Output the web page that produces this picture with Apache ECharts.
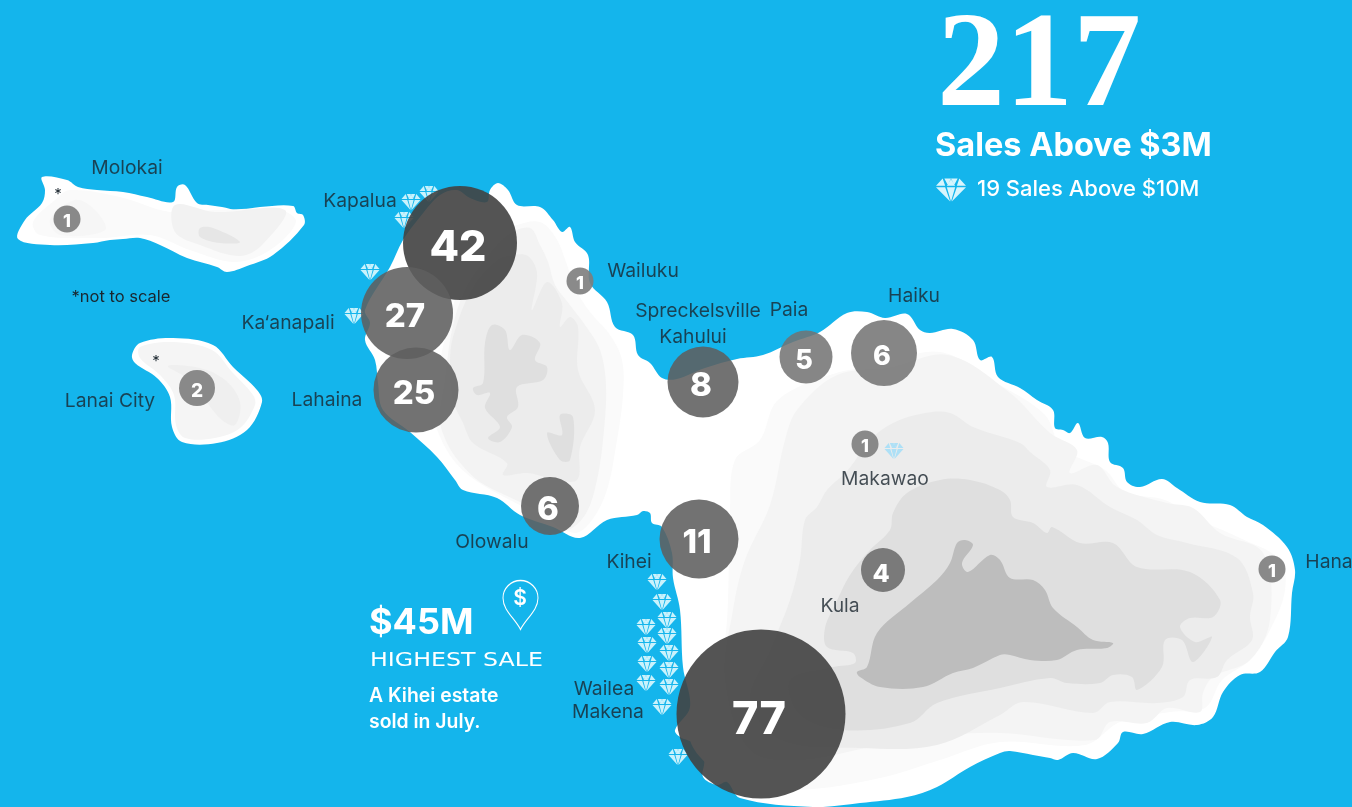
<!DOCTYPE html>
<html>
<head>
<meta charset="utf-8">
<title>Maui sales above $3M</title>
<style>
html, body { margin: 0; padding: 0; background: #14b5ec; }
#chart { width: 1352px; height: 807px; }
</style>
<script src="https://cdn.jsdelivr.net/npm/echarts@6/dist/echarts.min.js"></script>
</head>
<body>
<div id="chart"></div>
<script>
// sales per town, in map coordinates
const bubbleTowns = ['Wailea Makena', 'Kapalua', 'Kaanapali', 'Lahaina', 'Kihei', 'Kahului', 'Olowalu', 'Haiku', 'Paia', 'Kula', 'Lanai City', 'Molokai', 'Wailuku', 'Makawao', 'Hana'];
const bubbleCounts = [77, 42, 27, 25, 11, 8, 6, 6, 5, 4, 2, 1, 1, 1, 1];
const bubbleX = [761, 460, 407, 416, 699, 703, 550, 884, 806, 883, 197, 67, 580, 865, 1272];
const bubbleY = [714, 243, 313, 390, 539, 382, 506, 353, 357, 570, 388, 219, 281, 444, 569];

// sales above $10M, one diamond each
const diamondX = [429, 411, 404, 370, 354, 657, 662, 667, 646, 667, 647, 669, 647, 669, 646, 669, 662, 678, 894];
const diamondY = [194, 202, 220, 272, 316, 582, 602, 620, 627, 636, 645, 653, 664, 670, 683, 687, 707, 757, 451];

// place names
const placeNames = ['Molokai', 'Kapalua', 'Wailuku', 'Ka‘anapali', 'Lanai City', 'Lahaina', 'Spreckelsville', 'Paia', 'Haiku', 'Kahului', 'Makawao', 'Olowalu', 'Kihei', 'Kula', 'Hana', 'Wailea', 'Makena'];
const placeX = [127, 360, 643, 288, 110, 327, 698, 789, 914, 693, 885, 492, 629, 840, 1329, 604, 608];
const placeY = [167, 200, 270, 322, 400, 399, 310, 309, 295, 336, 478, 541, 561, 605, 561, 688, 711];

// island outlines
const maui = [[490,190],[498,183],[508,190],[517,205],[540,207],[553,220],[562,232],[570,227],[575,242],[588,255],[590,283],[607,302],[615,327],[633,335],[638,355],[650,363],[662,378],[677,379],[705,368],[737,359],[763,355],[793,342],[820,332],[847,313],[867,312],[885,318],[907,314],[920,330],[930,333],[953,329],[973,340],[980,360],[992,357],[998,377],[1020,388],[1037,400],[1053,410],[1055,428],[1063,430],[1070,433],[1078,423],[1085,438],[1102,437],[1108,443],[1110,462],[1123,468],[1127,482],[1140,487],[1162,479],[1177,488],[1200,502],[1230,505],[1247,517],[1263,525],[1287,547],[1295,570],[1292,593],[1288,637],[1275,652],[1260,672],[1240,675],[1223,692],[1213,717],[1197,725],[1170,722],[1143,734],[1123,732],[1118,743],[1097,759],[1073,753],[1058,760],[1050,758],[1033,755],[1010,751],[1000,753],[970,767],[937,787],[907,797],[860,803],[813,807],[740,798],[727,782],[717,785],[703,777],[704,760],[693,743],[680,737],[675,730],[690,707],[683,667],[680,610],[673,578],[672,553],[662,527],[652,523],[650,513],[643,511],[637,515],[607,520],[580,538],[553,527],[520,515],[497,498],[463,490],[455,480],[437,457],[410,432],[383,410],[378,383],[375,360],[365,340],[370,323],[365,310],[390,267],[403,240],[420,217],[440,195],[457,190],[470,198],[487,202]];
const westA = [[517,225],[540,222],[556,238],[566,262],[576,290],[590,312],[610,335],[622,360],[623,395],[617,440],[607,490],[592,520],[575,533],[550,520],[510,500],[478,482],[455,462],[438,432],[430,400],[440,360],[452,310],[470,260],[495,235]];
const westB = [[508,235],[530,228],[540,245],[548,262],[555,285],[566,300],[585,325],[600,350],[606,385],[604,430],[597,480],[585,515],[565,530],[540,512],[505,495],[480,482],[462,465],[448,445],[440,420],[445,380],[452,330],[465,290],[485,260]];
const westC = [[497,260],[513,255],[528,256],[537,273],[532,310],[547,282],[562,303],[560,327],[570,317],[578,327],[578,370],[595,410],[580,447],[577,480],[550,478],[527,473],[503,475],[507,463],[473,443],[463,423],[453,400],[450,365],[453,337],[473,287]];
const westD = [[492,325],[505,330],[510,350],[522,335],[540,343],[535,360],[547,367],[543,380],[517,387],[518,407],[507,417],[512,427],[500,442],[488,438],[500,427],[485,408],[490,393],[477,395],[473,388],[483,383],[485,343]];
const westE = [[560,415],[573,417],[570,460],[560,460],[547,433],[562,435]];
const eastA = [[728,600],[730,513],[735,460],[760,440],[778,400],[833,374],[880,365],[940,352],[1000,385],[1045,415],[1062,448],[1105,470],[1125,492],[1165,500],[1195,518],[1240,538],[1280,560],[1285,590],[1270,630],[1250,660],[1222,680],[1205,708],[1170,712],[1120,722],[1085,745],[1000,742],[940,760],[880,778],[800,790],[740,785],[690,740],[715,690],[725,640]];
const eastB = [[733,610],[745,560],[770,505],[785,440],[797,410],[837,375],[890,368],[948,355],[1010,393],[1050,433],[1077,450],[1070,473],[1097,465],[1117,487],[1167,503],[1193,508],[1220,533],[1263,553],[1270,620],[1250,660],[1213,677],[1203,693],[1200,712],[1167,708],[1147,723],[1110,722],[1095,740],[1000,733],[950,735],[880,745],[800,760],[750,750],[725,680]];
const eastC = [[790,600],[800,560],[805,520],[817,507],[827,490],[848,470],[870,440],[893,423],[925,413],[950,413],[973,427],[1020,443],[1030,452],[1050,470],[1047,487],[1077,485],[1110,507],[1137,520],[1157,535],[1187,543],[1237,558],[1253,593],[1250,617],[1252,640],[1227,660],[1217,677],[1190,680],[1183,697],[1157,703],[1110,702],[1093,713],[1023,702],[1000,715],[937,745],[860,748],[780,740],[750,700],[770,650]];
const eastD = [[907,493],[940,480],[970,480],[1000,490],[1010,500],[1013,517],[1033,523],[1047,533],[1052,527],[1080,543],[1113,543],[1137,567],[1190,572],[1220,600],[1213,617],[1190,618],[1180,627],[1195,642],[1212,637],[1193,662],[1182,640],[1165,640],[1162,667],[1137,690],[1132,677],[1113,675],[1100,683],[1067,683],[1050,678],[1000,688],[937,703],[910,723],[843,730],[800,715],[790,680],[833,667],[855,663],[853,653],[827,647],[825,628],[835,605],[850,575],[870,550],[890,530],[893,513]];
const eastE = [[957,543],[965,540],[973,545],[962,563],[968,572],[990,555],[1000,560],[1010,578],[1033,580],[1045,590],[1053,608],[1077,627],[1093,640],[1113,643],[1107,648],[1077,650],[1057,660],[1030,660],[1010,655],[1000,655],[973,668],[953,673],[923,687],[880,687],[860,677],[857,672],[867,667],[877,633],[910,603],[937,580],[950,563]];
const molokai = [[42,177],[67,180],[78,187],[97,190],[123,192],[147,197],[173,202],[177,187],[185,185],[197,203],[208,205],[222,207],[237,210],[260,207],[293,206],[297,213],[303,215],[304,225],[273,255],[247,266],[227,272],[217,267],[187,258],[160,245],[140,238],[123,239],[110,240],[93,243],[50,245],[18,239],[25,220],[42,203],[45,190]];
const molokaiA = [[70,190],[120,197],[170,212],[215,210],[280,210],[296,222],[270,250],[235,262],[190,250],[150,235],[100,238],[40,235],[33,222],[55,200]];
const molokaiB = [[175,205],[215,212],[285,210],[262,245],[240,256],[200,245],[175,232]];
const molokaiC = [[50,220],[75,200],[95,210],[105,230],[60,235]];
const molokaiD = [[200,228],[213,228],[240,242],[220,243],[200,237]];
const lanai = [[132,355],[140,343],[173,338],[213,345],[233,367],[257,390],[262,402],[247,430],[217,443],[182,442],[172,427],[170,397],[157,378],[135,363]];
const lanaiA = [[140,347],[173,342],[212,350],[232,372],[253,395],[255,405],[240,428],[215,438],[185,438],[176,425],[174,395],[160,375],[140,358]];
const lanaiB = [[168,366],[200,368],[225,380],[240,402],[235,425],[222,420],[205,400],[190,380]];

// styling, in the same order as the towns above
const bubbleSizes = [169, 114, 92, 85, 79, 71, 58, 66, 53, 44, 36, 27, 27, 27, 27];
const bubbleFills = ['rgba(65,65,65,.9)', 'rgba(65,65,65,.9)', 'rgba(94,94,94,.88)', 'rgba(94,94,94,.88)', 'rgba(94,94,94,.88)', 'rgba(94,94,94,.88)', 'rgba(94,94,94,.88)', 'rgba(114,114,114,.86)', 'rgba(114,114,114,.86)', 'rgba(105,105,105,.86)', 'rgba(125,125,125,.9)', 'rgba(125,125,125,.9)', 'rgba(125,125,125,.9)', 'rgba(125,125,125,.9)', 'rgba(125,125,125,.9)'];
const bubbleFonts = [45, 43, 33, 33, 33, 33, 33, 27, 27, 25, 19, 18, 18, 18, 18];

const layers = [
    [maui, '#ffffff'], [westA, '#fafafa'], [westB, '#f3f3f3'], [westC, '#ececec'], [westD, '#dfdfdf'], [westE, '#dfdfdf'],
    [eastA, '#fafafa'], [eastB, '#f4f4f4'], [eastC, '#ececec'], [eastD, '#dfdfdf'], [eastE, '#bdbdbd'],
    [molokai, '#ffffff'], [molokaiA, '#fafafa'], [molokaiB, '#f2f2f2'], [molokaiC, '#f6f6f6'], [molokaiD, '#e6e6e6'],
    [lanai, '#ffffff'], [lanaiA, '#f5f5f5'], [lanaiB, '#efefef']
];

const font = 'Inter, "Open Sans", sans-serif';
const ink = '#1a262e';
const diamond = 'path://M8 0L0 9L11 9ZM10 0L18 0L14 8ZM18 1L13 9L23 9ZM18 0L26 0L22 8ZM28 0L25 9L36 9ZM0 11L11 11L17 29ZM13 11L23 11L18 29ZM25 11L36 11L19 29Z';
const pin = 'path://M17.500 49C12 38 0 30 0 17.500A17.500 17.500 0 1 1 35 17.500C35 30 23 38 17.500 49Z';

const chart = echarts.init(document.getElementById('chart'));

function whiteText(text, x, y, size, weight, family) {
    return { type: 'text', x: x, y: y, silent: true, style: { text: text, fill: '#fff', font: weight + ' ' + size + 'px ' + (family || font), verticalAlign: 'middle' } };
}

function inkText(text, x, y, size) {
    return { type: 'text', x: x, y: y, z: 10, silent: true, style: { text: text, fill: ink, font: '400 ' + size + 'px ' + font, align: 'center', verticalAlign: 'middle' } };
}

chart.setOption({
    animation: false,
    backgroundColor: '#14b5ec',
    grid: { left: 0, right: 0, top: 0, bottom: 0 },
    xAxis: { type: 'value', min: 0, max: 1352, show: false },
    yAxis: { type: 'value', min: 0, max: 807, inverse: true, show: false },
    series: [
        {
            type: 'custom',
            silent: true,
            clip: false,
            z: 1,
            data: layers.map((l, i) => [i]),
            renderItem: (params, api) => {
                const layer = layers[api.value(0)];
                return {
                    type: 'polygon',
                    shape: { points: layer[0].map(p => api.coord(p)), smooth: 0.35 },
                    style: { fill: layer[1] }
                };
            }
        },
        {
            type: 'scatter',
            silent: true,
            z: 2,
            symbol: diamond,
            symbolSize: [19, 16],
            itemStyle: { color: '#c9f2fc', opacity: 1 },
            data: diamondX.map((x, i) => ({
                value: [x, diamondY[i]],
                itemStyle: i === 18 ? { color: '#aee0f6' } : undefined
            }))
        },
        {
            // legend diamond and the highest sale pin
            type: 'scatter',
            silent: true,
            z: 2,
            data: [
                { value: [951, 190], symbol: diamond, symbolSize: [30, 23], itemStyle: { color: '#d8f5fd', opacity: 1 } },
                { value: [520.500, 605], symbol: pin, symbolSize: [35, 49], itemStyle: { color: 'rgba(0,0,0,0)', borderColor: '#fff', borderWidth: 1.2, opacity: 1 } }
            ]
        },
        {
            type: 'scatter',
            silent: true,
            z: 3,
            data: bubbleX.map((x, i) => ({
                name: bubbleTowns[i],
                value: [x, bubbleY[i], bubbleCounts[i]],
                symbolSize: bubbleSizes[i],
                itemStyle: { color: bubbleFills[i], opacity: 1 },
                label: {
                    show: true,
                    position: 'inside',
                    offset: [bubbleFonts[i] > 20 ? -2 : 0, Math.round(bubbleFonts[i] * 0.1) + 1],
                    formatter: String(bubbleCounts[i]),
                    color: '#fff',
                    fontFamily: font,
                    fontWeight: 800,
                    fontSize: bubbleFonts[i]
                }
            }))
        },
        {
            type: 'scatter',
            silent: true,
            z: 4,
            symbolSize: 1,
            itemStyle: { color: 'rgba(0,0,0,0)' },
            data: placeNames.map((n, i) => [placeX[i], placeY[i], n]),
            label: {
                show: true,
                position: 'inside',
                offset: [0, 1],
                formatter: p => p.value[2],
                color: ink,
                fontFamily: font,
                fontSize: 19.300
            }
        }
    ],
    graphic: [
        { type: 'text', x: 937, y: 2, silent: true, style: { text: '217', fill: '#fff', font: '700 136px "Liberation Serif", serif' } },
        whiteText('Sales Above $3M', 935, 146, 32.500, 700),
        whiteText('19 Sales Above $10M', 977, 189, 22, 500),
        whiteText('$45M', 369, 623, 36, 700),
        Object.assign(whiteText('HIGHEST SALE', 370, 661, 20, 400, '"DejaVu Sans", sans-serif'), { scaleX: 1.185 }),
        whiteText('A Kihei estate', 369, 696, 19.400, 600),
        whiteText('sold in July.', 369, 722, 19.400, 600),
        { type: 'text', x: 520, y: 599, silent: true, style: { text: '$', fill: '#fff', font: '600 21px ' + font, align: 'center', verticalAlign: 'middle' } },
        inkText('*not to scale', 121, 297, 16.500),
        inkText('*', 58, 194, 15),
        inkText('*', 156, 361, 15)
    ]
});
</script>
</body>
</html>
